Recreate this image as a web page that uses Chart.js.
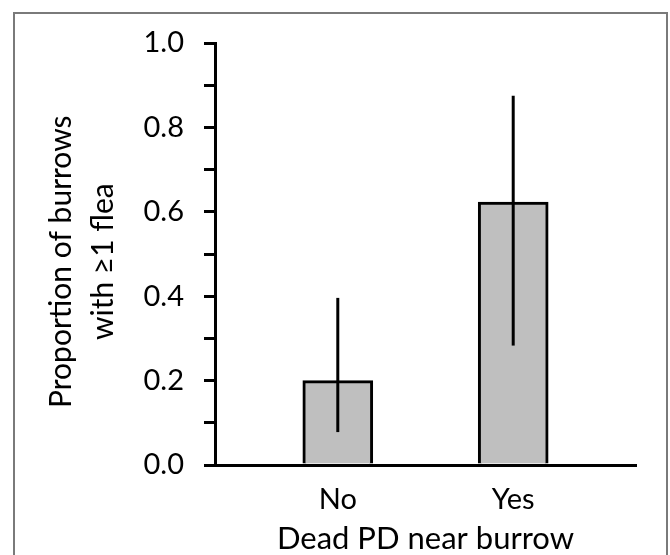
<!DOCTYPE html>
<html>
<head>
<meta charset="utf-8">
<script src="https://cdn.jsdelivr.net/npm/chart.js@4"></script>
<style>
  html, body { margin: 0; padding: 0; background: #fff; overflow: hidden; }
  #frame { position: absolute; left: 13px; top: 12px; width: 655px; height: 600px; border: 2px solid #7a7a7a; box-sizing: border-box; }
  #wrap { position: absolute; left: 0; top: 0; width: 670px; height: 555px; }
</style>
</head>
<body>
<div id="frame"></div>
<div id="wrap"><canvas id="chart"></canvas></div>
<script>
// --- Data ---
const categories = ['No', 'Yes'];
const proportions = [0.20, 0.623];
const errLow = [0.078, 0.283];
const errHigh = [0.396, 0.875];
const yTickLabels = ['0.0', '0.2', '0.4', '0.6', '0.8', '1.0'];

const FONT = 'Lato, "Open Sans", sans-serif';

// vertical error lines, no caps
const errorBars = {
    id: 'errorBars',
    afterDatasetsDraw(chart) {
        const ctx = chart.ctx;
        const y = chart.scales.y;
        const meta = chart.getDatasetMeta(0);
        ctx.save();
        ctx.strokeStyle = '#000';
        ctx.lineWidth = 3;
        meta.data.forEach((bar, i) => {
            ctx.beginPath();
            ctx.moveTo(bar.x, y.getPixelForValue(errLow[i]));
            ctx.lineTo(bar.x, y.getPixelForValue(errHigh[i]));
            ctx.stroke();
        });
        ctx.restore();
    }
};

new Chart(document.getElementById('chart'), {
    type: 'bar',
    data: {
        datasets: [{
            data: categories.map((c, i) => ({ x: i + 1, y: proportions[i] })),
            backgroundColor: '#bfbfbf',
            borderColor: '#000',
            borderWidth: 3,
            barThickness: 70
        }]
    },
    options: {
        responsive: true,
        maintainAspectRatio: false,
        animation: false,
        layout: { padding: { left: 0, top: 43, right: 34, bottom: 0 } },
        plugins: { legend: { display: false }, tooltip: { enabled: false } },
        scales: {
            x: {
                // linear so the two bars sit where the original puts them
                type: 'linear',
                offset: false,
                min: 0.3, max: 2.7,
                afterBuildTicks: s => { s.ticks = categories.map((c, i) => ({ value: i + 1 })); },
                afterFit: s => { s.height = 90; },
                grid: { display: false, drawTicks: false, offset: false },
                border: { display: true, color: '#000', width: 3 },
                ticks: {
                    autoSkip: false,
                    padding: 17,
                    color: '#000',
                    font: { family: FONT, size: 29 },
                    callback: v => categories[v - 1] || ''
                },
                title: {
                    display: true,
                    text: 'Dead PD near burrow',
                    color: '#000',
                    font: { family: FONT, size: 31 },
                    padding: { top: 0, bottom: -3 }
                }
            },
            y: {
                min: 0, max: 1,
                afterFit: s => { s.width = 215; },
                ticks: {
                    stepSize: 0.1,
                    autoSkip: false,
                    padding: 20,
                    color: '#000',
                    font: { family: FONT, size: 29 },
                    callback: v => {
                        const k = Math.round(v * 10);
                        return k % 2 === 0 ? yTickLabels[k / 2] : '';
                    }
                },
                grid: { drawOnChartArea: false, drawTicks: true, tickLength: 11, color: '#000', lineWidth: 3 },
                border: { display: true, color: '#000', width: 3 },
                title: {
                    display: true,
                    text: ['Proportion of burrows  ', 'with \u22651 flea  '],
                    color: '#000',
                    font: { family: FONT, size: 30, lineHeight: 1.4 },
                    padding: { top: 40, bottom: 0 }
                }
            }
        }
    },
    plugins: [errorBars]
});
</script>
</body>
</html>
